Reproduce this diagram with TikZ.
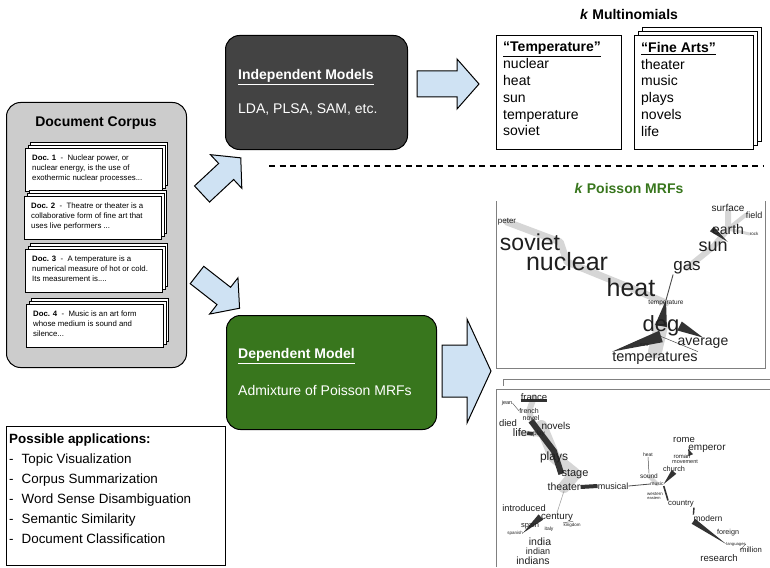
\documentclass[tikz,border=0pt]{standalone}
\usepackage{fontspec}
\setmainfont{Liberation Sans}
\usetikzlibrary{calc,backgrounds}
\definecolor{arrowblue}{HTML}{CFE2F3}
\definecolor{darkbox}{HTML}{434343}
\definecolor{greenbox}{HTML}{38761D}
\definecolor{corpusgray}{HTML}{CCCCCC}
\newcommand{\fsz}[1]{\fontsize{#1}{#1}\selectfont}
\newcommand{\tedge}[3]{\fill[black!80] ($(#1)!#3!90:(#2)$) -- ($(#1)!#3!-90:(#2)$) -- (#2) -- cycle;}
% block arrow: x, y (tail centre), angle, length, shaft half width, head half width, head length
\newcommand{\blockarrow}[7]{%
  \begin{scope}[shift={(#1,#2)}, rotate=#3]
    \draw[bluearrow] (0,-#5) -- (#4-#7,-#5) -- (#4-#7,-#6) -- (#4,0) -- (#4-#7,#6) -- (#4-#7,#5) -- (0,#5) -- cycle;
  \end{scope}}
\newcommand{\docstack}[4]{%
  \node[sheet] (#1c) at (#2+5,#3-6) {};
  \node[sheet] (#1b) at (#2+2.5,#3-3) {};
  \node[sheet] (#1) at (#2,#3) {};
  \node[doctext] (#1t) at (#2+7,#3+7) {#4};}
\newcommand{\wn}[5]{\node[wd, font=\fsz{#4}] (#1) at (#2,#3) {#5};}
\tikzset{
  bluearrow/.style={fill=arrowblue, draw=black, line width=1pt, line join=miter},
  corpusbox/.style={draw=black, line width=1pt, fill=corpusgray, rounded corners=14pt, inner sep=0pt, anchor=north west},
  modelbox/.style={draw=black, line width=1pt, rounded corners=14pt, inner sep=0pt, anchor=north west},
  sheet/.style={draw=black, fill=white, line width=1pt, inner sep=0pt, anchor=north west, minimum width=137pt, minimum height=43pt},
  doctext/.style={font=\fontsize{7.8}{9.8}\selectfont, align=left, inner sep=0pt, anchor=north west},
  plainbox/.style={draw=black, fill=white, line width=1pt, inner sep=0pt, anchor=north west},
  wd/.style={inner sep=0pt, text=black!88},
  lightband/.style={draw=black!16, line cap=round, line join=round},
  darkband/.style={draw=black!80},
  thinline/.style={draw=black!70, line width=0.7pt},
  framegray/.style={draw=black!50, line width=0.7pt},
}
\begin{document}
\begin{tikzpicture}[x=1pt,y=-1pt]
\useasboundingbox (0,0) rectangle (770,567);

% ---------------- Document corpus ----------------
\node[corpusbox, minimum width=180pt, minimum height=265pt] (corpus) at (6,102) {};
\node[font=\bfseries\fsz{14}, inner sep=0pt] (corpust) at (96,123) {Document Corpus};
\docstack{d1}{25}{148}{\textbf{Doc. 1}\ \ -\ \ Nuclear power, or\\nuclear energy, is the use of\\exothermic nuclear processes...}
\docstack{d2}{24}{196}{\textbf{Doc. 2}\ \ -\ \ Theatre or theater is a\\collaborative form of fine art that\\uses live performers ...}
\docstack{d3}{25}{249}{\textbf{Doc. 3}\ \ -\ \ A temperature is a\\numerical measure of hot or cold.\\Its measurement is....}
\docstack{d4}{26}{304}{\textbf{Doc. 4}\ \ -\ \ Music is an art form\\whose medium is sound and\\silence...}

% ---------------- arrows ----------------
\blockarrow{202}{194}{43}{53}{11}{23}{20}
\blockarrow{197}{275}{-38}{54}{11}{23}{20}
\blockarrow{417}{84}{0}{62}{13}{25}{22}
\blockarrow{442}{371}{0}{49}{26}{52}{24}

% ---------------- model boxes ----------------
\node[modelbox, fill=darkbox, minimum width=182pt, minimum height=114pt] (indep) at (225,35) {};
\node[anchor=west, inner sep=0pt, text=white, font=\bfseries\fsz{14}] (indept) at (238,77) {\underline{Independent Models}};
\node[anchor=west, inner sep=0pt, text=white, font=\fsz{14}] (indepl) at (238,110) {LDA, PLSA, SAM, etc.};

\node[modelbox, fill=greenbox, minimum width=210pt, minimum height=114pt] (dep) at (226,315) {};
\node[anchor=west, inner sep=0pt, text=white, font=\bfseries\fsz{14}] (dept) at (238,356) {\underline{Dependent Model}};
\node[anchor=west, inner sep=0pt, text=white, font=\fsz{14}] (depl) at (238,390) {Admixture of Poisson MRFs};

% ---------------- multinomials ----------------
\node[font=\bfseries\fsz{14}, inner sep=0pt] (multt) at (629,14) {\textit{k} Multinomials};
\node[plainbox, minimum width=125pt, minimum height=114pt] (m1) at (496,35) {};
\node[anchor=north west, align=left, inner sep=0pt, font=\fontsize{14}{16.8}\selectfont] (m1t) at (503,42) {\textbf{\underline{“Temperature”}}\\nuclear\\heat\\sun\\temperature\\soviet};
\node[plainbox, minimum width=119pt, minimum height=114pt] (m2c) at (642,27) {};
\node[plainbox, minimum width=119pt, minimum height=114pt] (m2b) at (638,31) {};
\node[plainbox, minimum width=119pt, minimum height=114pt] (m2) at (634,35) {};
\node[anchor=north west, align=left, inner sep=0pt, font=\fontsize{14}{16.8}\selectfont] (m2t) at (641,42) {\textbf{\underline{“Fine Arts”}}\\theater\\music\\plays\\novels\\life};

\coordinate (dashL) at (269,166);
\coordinate (dashR) at (763,166);
\draw[line width=1.2pt, dash pattern=on 6pt off 4.5pt] (dashL) -- (dashR);

\node[font=\bfseries\fsz{14}, inner sep=0pt, text=greenbox] (poist) at (629,188) {\textit{k} Poisson MRFs};

% ---------------- apps box ----------------
\node[plainbox, minimum width=219pt, minimum height=139pt] (apps) at (6,426) {};
\node[anchor=north west, align=left, inner sep=0pt, font=\fontsize{13.4}{20}\selectfont] (appst) at (9,434) {\textbf{Possible applications:}\\-\hspace{8pt}Topic Visualization\\-\hspace{8pt}Corpus Summarization\\-\hspace{8pt}Word Sense Disambiguation\\-\hspace{8pt}Semantic Similarity\\-\hspace{8pt}Document Classification};

% ---------------- Poisson MRF graph 1 ----------------
\draw[framegray] (496,201) -- (496,368) -- (765,368) -- (765,201);
\wn{peter}{507}{222}{8}{peter}
\wn{soviet}{530}{242}{23}{soviet}
\wn{nuclear}{567}{262}{25}{nuclear}
\wn{heat}{631}{288}{25}{heat}
\wn{gas}{687}{268}{17}{gas}
\wn{sun}{713}{247}{18}{sun}
\wn{earth}{728}{229}{14}{earth}
\wn{surface}{728}{208}{10}{surface}
\wn{field}{754}{215}{9}{field}
\wn{rock}{754}{234}{4.5}{rock}
\wn{tmp}{666}{303}{6.5}{temperature}
\wn{deg}{661}{326}{22}{deg}
\wn{average}{703}{343}{14}{average}
\wn{temps}{655}{358}{14.5}{temperatures}
\wn{mm}{644}{345}{5}{mm}
\begin{scope}[on background layer]
  \draw[lightband, line width=7pt] (peter.center) -- (soviet.east) -- (nuclear.center) -- (heat.center) -- (tmp.center);
  \draw[lightband, line width=6pt] (gas.center) -- (sun.center) -- (earth.center) -- (surface.south);
  \draw[lightband, line width=4pt] (earth.center) -- (field.west);
  \draw[lightband, line width=3pt] (earth.center) -- (rock.west);
  \draw[lightband, line width=14pt] (deg.center) -- (temps.north);
  \draw[thinline, line width=0.9pt] (gas.south west) -- (tmp.north);
  \tedge{deg.center}{tmp.north}{6pt}
  \tedge{deg.east}{average.north}{5pt}
  \tedge{deg.south}{temps.north west}{6pt}
  \tedge{earth.west}{sun.north east}{3pt}
  \draw[thinline, line width=0.5pt] (deg.south) -- (temps.north east);
\end{scope}

% ---------------- Poisson MRF graph 2 ----------------
\draw[framegray] (503,386) -- (503,379) -- (770,379);
\draw[framegray] (496,567) -- (496,389) -- (770,389);
\wn{france}{534}{397}{9.5}{france}
\wn{jean}{507}{403}{5.5}{jean}
\wn{french}{529}{411}{7}{french}
\wn{novel}{531}{418}{7}{novel}
\wn{died}{508}{423}{9.5}{died}
\wn{novels}{556}{426}{10}{novels}
\wn{life}{520}{433}{11}{life}
\wn{play}{539}{434}{6.5}{play}
\wn{plays}{554}{457}{12}{plays}
\wn{stage}{575}{474}{11}{stage}
\wn{theater}{564}{487}{10.5}{theater}
\wn{musical}{613}{486}{9}{musical}
\wn{introduced}{524}{508}{9.3}{introduced}
\wn{century}{557}{517}{9.7}{century}
\wn{spain}{530}{526}{7.5}{spain}
\wn{kingdom}{572}{525}{4.5}{kingdom}
\wn{italy}{549}{529}{5}{italy}
\wn{spanish}{515}{533}{4.5}{spanish}
\wn{india}{540}{542}{10.5}{india}
\wn{indian}{538}{551}{9}{indian}
\wn{indians}{533}{561}{10.5}{indians}
\wn{heatb}{648}{455}{5}{heat}
\wn{sound}{649}{476}{6.5}{sound}
\wn{music}{657}{484}{5}{music}
\wn{western}{655}{494}{4.5}{western}
\wn{eastern}{654}{498}{4}{eastern}
\wn{rome}{684}{440}{9.5}{rome}
\wn{emperor}{707}{449}{10}{emperor}
\wn{roman}{682}{457}{6}{roman}
\wn{movement}{685}{462}{5.5}{movement}
\wn{church}{674}{469}{7.3}{church}
\wn{country}{681}{504}{7.8}{country}
\wn{modern}{708}{518}{8.5}{modern}
\wn{foreign}{728}{533}{7.2}{foreign}
\wn{languages}{736}{544}{4.2}{languages}
\wn{million}{751}{550}{7.7}{million}
\wn{research}{719}{558}{9.6}{research}
\begin{scope}[on background layer]
  \draw[lightband, line width=6pt] (france.center) -- (french.center) -- (novel.center) -- (play.center);
  \draw[lightband, line width=12pt] (novels.west) -- (plays.center) -- (stage.center) -- (theater.center);
  \draw[lightband, line width=5pt] (life.center) -- (play.center);
  \draw[lightband, line width=4pt] (sound.center) -- (music.center);
  \draw[darkband, line width=2.5pt] (france.south west) -- (france.south east);
  \draw[thinline, line width=0.4pt] (jean.east) -- (french.west);
  \draw[darkband, line width=6pt] (novel.south) -- (plays.north) -- (stage.west);
  \draw[darkband, line width=3.5pt] (life.east) -- (play.west);
  \draw[darkband, line width=4pt] (theater.east) -- (musical.west);
  \draw[thinline, line width=0.8pt] (musical.east) -- (music.west);
  \tedge{church.south}{music.east}{3pt}
  \tedge{roman.north east}{emperor.west}{2.5pt}
  \draw[thinline, line width=0.5pt] (heatb.south) -- (sound.north);
  \draw[darkband, line width=1.6pt] (music.south east) -- (country.north west);
  \draw[darkband, line width=1.4pt] (country.south east) -- (modern.north west);
  \tedge{modern.south west}{languages.west}{3pt}
  \draw[thinline, line width=0.4pt] (languages.east) -- (million.west);
  \draw[thinline, draw=black!35, line width=0.6pt] (theater.south) -- (century.north);
  \tedge{century.west}{spanish.east}{3.5pt}
  \draw[thinline, line width=0.4pt] (century.south east) -- (kingdom.north west);
\end{scope}
\end{tikzpicture}
\end{document}
